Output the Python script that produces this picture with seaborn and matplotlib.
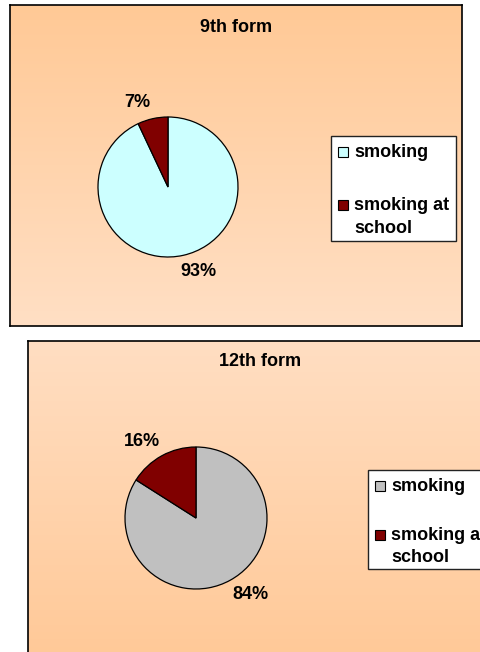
import numpy as np
import matplotlib
matplotlib.use("Agg")
import matplotlib.pyplot as plt
from matplotlib.patches import Rectangle
import seaborn as sns

# ---- data ----
categories = ["smoking", "smoking at\nschool"]
titles = ["9th form", "12th form"]
form9_values = [93, 7]
form12_values = [84, 16]
form9_colors = ["#CCFFFF", "#800000"]
form12_colors = ["#C0C0C0", "#800000"]

sns.set_theme(style="white")
plt.rcParams['font.family'] = ['Liberation Sans', 'DejaVu Sans']

W, H = 480, 652
fig = plt.figure(figsize=(4.8, 6.52), dpi=100)
fig.patch.set_facecolor('white')


def rect(x0, y0, x1, y1):
    return [x0 / W, 1 - y1 / H, (x1 - x0) / W, (y1 - y0) / H]


def panel(box, top_color, bottom_color):
    ax = fig.add_axes(rect(*box), zorder=0)
    c0 = np.array(matplotlib.colors.to_rgb(top_color))
    c1 = np.array(matplotlib.colors.to_rgb(bottom_color))
    t = np.linspace(0, 1, 256)[:, None, None]
    grad = c0 * (1 - t) + c1 * t
    ax.imshow(grad, aspect='auto', extent=[0, 1, 0, 1], origin='upper')
    ax.set_xlim(0, 1)
    ax.set_ylim(0, 1)
    ax.set_xticks([])
    ax.set_yticks([])
    for s in ax.spines.values():
        s.set_visible(True)
        s.set_color('black')
        s.set_linewidth(1.2)
    return ax


def pie(cx, cy, r, values, colors):
    s = 3 * r
    ax = fig.add_axes(rect(cx - s / 2, cy - s / 2, cx + s / 2, cy + s / 2), zorder=2)
    ax.set_facecolor('none')
    wedges, texts, autotexts = ax.pie(
        values, colors=colors, startangle=90, counterclock=False,
        autopct=lambda p: f"{p:.0f}%", pctdistance=1.23,
        wedgeprops=dict(edgecolor='black', linewidth=0.9),
        textprops=dict(fontsize=13, fontweight='bold', color='black'))
    ax.set_xlim(-1.5, 1.5)
    ax.set_ylim(-1.5, 1.5)
    ax.set_aspect('equal')
    ax.axis('off')
    for t in autotexts:
        x, y = t.get_position()
        t.set_x(x + 0.17 * np.sign(x))
    return ax


def legend(box, first_base, second_base, line_gap, colors):
    x0, y0, x1, y1 = box
    fig.add_artist(Rectangle((x0 / W, 1 - y1 / H), (x1 - x0) / W, (y1 - y0) / H,
                             transform=fig.transFigure, facecolor='white',
                             edgecolor='#222222', linewidth=1.0, zorder=3))
    for lab, col, base in zip(categories, colors, [first_base, second_base]):
        fig.add_artist(Rectangle(((x0 + 7) / W, 1 - (base) / H), 10 / W, 10 / H,
                                 transform=fig.transFigure, facecolor=col,
                                 edgecolor='black', linewidth=0.8, zorder=4))
        for i, line in enumerate(lab.split("\n")):
            fig.text((x0 + 23) / W, 1 - (base + i * line_gap) / H, line,
                     ha='left', va='baseline', fontsize=13, fontweight='bold',
                     color='black', zorder=5)


# panel 1
panel((10, 5, 462, 326), '#FFC996', '#FFDFC4')
fig.text(236 / W, 1 - 28 / H, titles[0], ha='center', va='center',
         fontsize=13, fontweight='bold', color='black', zorder=5)
pie(168, 187, 70, form9_values, form9_colors)
legend((331, 136, 456, 241), 157, 210, 23, form9_colors)

# panel 2
panel((28, 341, 492, 670), '#FFDEC2', '#FFC896')
fig.text(260 / W, 1 - 362 / H, titles[1], ha='center', va='center',
         fontsize=13, fontweight='bold', color='black', zorder=5)
pie(196, 518, 71, form12_values, form12_colors)
legend((368, 470, 500, 569), 491, 540, 22, form12_colors)

fig.savefig("out.png", dpi=100, facecolor='white')
